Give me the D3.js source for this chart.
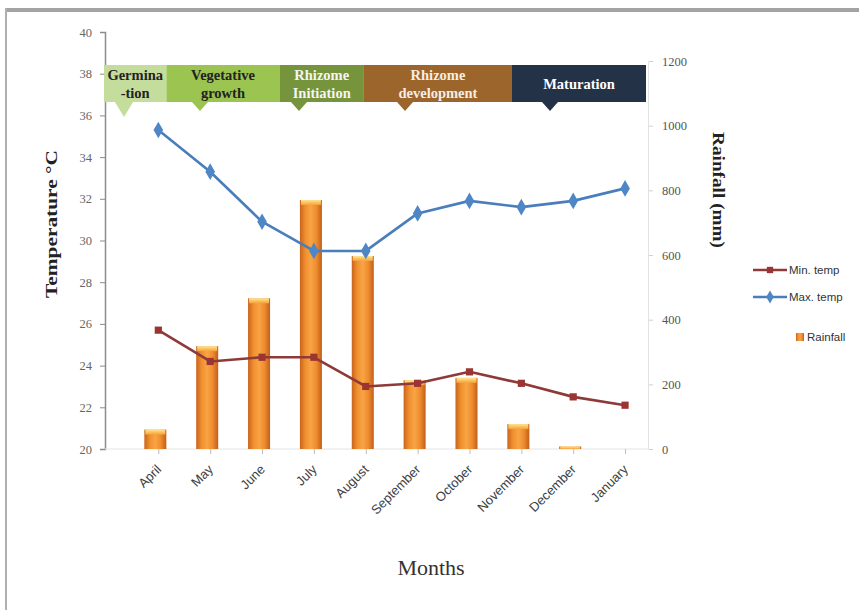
<!DOCTYPE html>
<html><head><meta charset="utf-8">
<script src="https://cdn.jsdelivr.net/npm/d3@7"></script>
<style>body{margin:0;background:#fff}svg{display:block}</style>
</head><body>
<svg id="chart" width="859" height="610"></svg>
<script>
// ---- data ----
const months   = ["April","May","June","July","August","September","October","November","December","January"];
const maxTemp  = [35.3, 33.3, 30.9, 29.5, 29.5, 31.3, 31.9, 31.6, 31.9, 32.5];
const minTemp  = [25.7, 24.2, 24.4, 24.4, 23.0, 23.15, 23.7, 23.15, 22.5, 22.1];
const rainfall = [60, 318, 466, 770, 597, 213, 220, 77, 8, 0];
const tempTicks = [20, 22, 24, 26, 28, 30, 32, 34, 36, 38, 40];
const rainTicks = [0, 200, 400, 600, 800, 1000, 1200];
const stageNames = [["Germina", "-tion"], ["Vegetative", "growth"], ["Rhizome", "Initiation"], ["Rhizome", "development"], ["Maturation"]];
const seriesNames = ["Min. temp", "Max. temp", "Rainfall"];

// ---- layout ----
const svg = d3.select("#chart");
const serif = "'Liberation Serif','Times New Roman',serif";
const sans = "'Liberation Sans',Arial,sans-serif";
const axisLeftX = 105, axisRightX = 648, baseY = 449;

const x = d3.scalePoint().domain(months).range([132.4, 651]).padding(0.5);
const yT = d3.scaleLinear().domain([20, 40]).range([baseY, 32]);
const yR = d3.scaleLinear().domain([0, 1200]).range([baseY, 61]);

// frame
svg.append("rect").attr("x", 6).attr("y", 8).attr("width", 853).attr("height", 4).attr("fill", "#a3a3a3");
svg.append("rect").attr("x", 5).attr("y", 8).attr("width", 2).attr("height", 602).attr("fill", "#b0b0b0");

const defs = svg.append("defs");
const bg = defs.append("linearGradient").attr("id", "barGrad").attr("x1", 0).attr("x2", 1).attr("y1", 0).attr("y2", 0);
[[0, "#c9641c"], [0.25, "#f0902f"], [0.5, "#f9a445"], [0.75, "#ee8c2e"], [1, "#c25e1a"]]
  .forEach(([o, c]) => bg.append("stop").attr("offset", o).attr("stop-color", c));
const cap = defs.append("linearGradient").attr("id", "capGrad").attr("x1", 0).attr("x2", 0).attr("y1", 0).attr("y2", 1);
[[0, "#fde6a0"], [0.5, "#fbc45c"], [1, "#f6a040"]]
  .forEach(([o, c]) => cap.append("stop").attr("offset", o).attr("stop-color", c));

// left axis
const gL = svg.append("g").attr("transform", `translate(${axisLeftX},0)`)
  .call(d3.axisLeft(yT).tickValues(tempTicks).tickSize(5).tickPadding(8));
gL.select(".domain").attr("stroke", "#8c8c8c").attr("stroke-width", 1.5);
gL.selectAll(".tick line").attr("stroke", "#8c8c8c");
gL.selectAll(".tick text").attr("font-family", serif).attr("font-size", 12.5).attr("fill", "#666");

// right axis
const gR = svg.append("g").attr("transform", `translate(${axisRightX},0)`)
  .call(d3.axisRight(yR).tickValues(rainTicks).tickFormat(d3.format("d")).tickSize(0).tickPadding(14));
gR.select(".domain").attr("stroke", "#e2e2e2");
gR.selectAll(".tick text").attr("font-family", serif).attr("font-size", 12.5).attr("fill", "#555");
gR.selectAll(".tick").append("line").attr("x1", 1).attr("x2", 5).attr("stroke", "#cfcfcf");

// category axis
svg.append("line").attr("x1", axisLeftX).attr("x2", axisRightX).attr("y1", baseY).attr("y2", baseY).attr("stroke", "#e4e4e4");
const gX = svg.append("g").attr("transform", `translate(0,${baseY})`)
  .call(d3.axisBottom(x).tickSize(5).tickPadding(4));
gX.select(".domain").remove();
gX.selectAll(".tick line").attr("stroke", "#bdbdbd");
gX.selectAll(".tick text")
  .attr("font-family", sans).attr("font-size", 13).attr("fill", "#404040")
  .attr("text-anchor", "end").attr("dy", "0.35em").attr("y", 0)
  .attr("transform", "translate(0,18) rotate(-45)");

// rainfall bars
const barW = 22, barShift = -3;
const bars = svg.append("g").selectAll("g").data(rainfall).join("g")
  .attr("transform", (d, i) => `translate(${x(months[i]) + barShift - barW / 2},0)`);
bars.append("rect").attr("y", d => yR(d)).attr("width", barW)
  .attr("height", d => baseY - yR(d)).attr("fill", "url(#barGrad)");
bars.filter(d => d > 0).append("rect").attr("x", 1).attr("y", d => yR(d)).attr("width", barW - 2)
  .attr("height", d => Math.min(5, baseY - yR(d))).attr("fill", "url(#capGrad)");

// temperature lines
function drawSeries(values, color, markerFill, symbol, size) {
  const line = d3.line().x((d, i) => x(months[i])).y(d => yT(d));
  svg.append("path").datum(values).attr("d", line).attr("fill", "none")
    .attr("stroke", color).attr("stroke-width", 2.6).attr("stroke-linejoin", "round");
  svg.append("g").selectAll("path").data(values).join("path")
    .attr("transform", (d, i) => `translate(${x(months[i])},${yT(d)})`)
    .attr("d", d3.symbol().type(symbol).size(size)).attr("fill", markerFill);
}
drawSeries(minTemp, "#8e3a38", "#9a3533", d3.symbolSquare, 52);
drawSeries(maxTemp, "#4a7ebb", "#4f86c6", d3.symbolDiamond, 80);

// growth stage banner
const stageEdges = [104, 166.4, 279.5, 363.9, 512, 646];
const stageFill = ["#c4dc9c", "#9bc451", "#76943c", "#9b652c", "#243248"];
const stageText = ["#222", "#222", "#f4f4f4", "#f6eee2", "#ffffff"];
const stagePointer = [124, 200, 299, 405, 550];
const boxTop = 65, boxBot = 102;
const banner = svg.append("g");
stageNames.forEach((lines, i) => {
  const x0 = stageEdges[i], x1 = stageEdges[i + 1], px = stagePointer[i];
  const tw = i === 0 ? 9 : 8, th = i === 0 ? 15 : 9;
  banner.append("rect").attr("x", x0).attr("y", boxTop).attr("width", x1 - x0).attr("height", boxBot - boxTop).attr("fill", stageFill[i]);
  banner.append("path").attr("d", `M${px - tw},${boxBot} L${px + tw},${boxBot} L${px},${boxBot + th}Z`).attr("fill", stageFill[i]);
  const cx = (x0 + x1) / 2;
  const t = banner.append("text").attr("x", cx).attr("text-anchor", "middle")
    .attr("font-family", serif).attr("font-weight", "bold").attr("font-size", 14.5).attr("fill", stageText[i]);
  if (lines.length === 1) {
    t.append("tspan").attr("x", cx).attr("y", 89).text(lines[0]);
  } else {
    t.append("tspan").attr("x", cx).attr("y", 80).text(lines[0]);
    t.append("tspan").attr("x", cx).attr("y", 98).text(lines[1]);
  }
});

// axis titles
svg.append("text").attr("transform", "translate(57,224) rotate(-90)").attr("text-anchor", "middle")
  .attr("font-family", serif).attr("font-weight", "bold").attr("font-size", 16).attr("fill", "#222")
  .attr("textLength", 148).attr("lengthAdjust", "spacingAndGlyphs")
  .text("Temperature °C");
svg.append("text").attr("transform", "translate(713,190) rotate(90)").attr("text-anchor", "middle")
  .attr("font-family", serif).attr("font-weight", "bold").attr("font-size", 16).attr("fill", "#222")
  .attr("textLength", 116).attr("lengthAdjust", "spacingAndGlyphs")
  .text("Rainfall (mm)");
svg.append("text").attr("x", 431).attr("y", 575).attr("text-anchor", "middle")
  .attr("font-family", serif).attr("font-size", 22).attr("fill", "#333").text("Months");

// legend
const lg = svg.append("g").attr("font-family", sans).attr("font-size", 11.5).attr("fill", "#333");
const legendRows = [
  {y: 270, color: "#8e3a38", fill: "#9a3533", symbol: d3.symbolSquare, size: 40},
  {y: 297, color: "#4a7ebb", fill: "#4f86c6", symbol: d3.symbolDiamond, size: 50}
];
legendRows.forEach((r, i) => {
  lg.append("line").attr("x1", 753).attr("x2", 787).attr("y1", r.y).attr("y2", r.y).attr("stroke", r.color).attr("stroke-width", 2.5);
  lg.append("path").attr("transform", `translate(770,${r.y})`).attr("d", d3.symbol().type(r.symbol).size(r.size)).attr("fill", r.fill);
  lg.append("text").attr("x", 789).attr("y", r.y + 4).text(seriesNames[i]);
});
lg.append("rect").attr("x", 796).attr("y", 333).attr("width", 8).attr("height", 8).attr("fill", "url(#barGrad)");
lg.append("text").attr("x", 807).attr("y", 341).text(seriesNames[2]);
</script>
</body></html>
